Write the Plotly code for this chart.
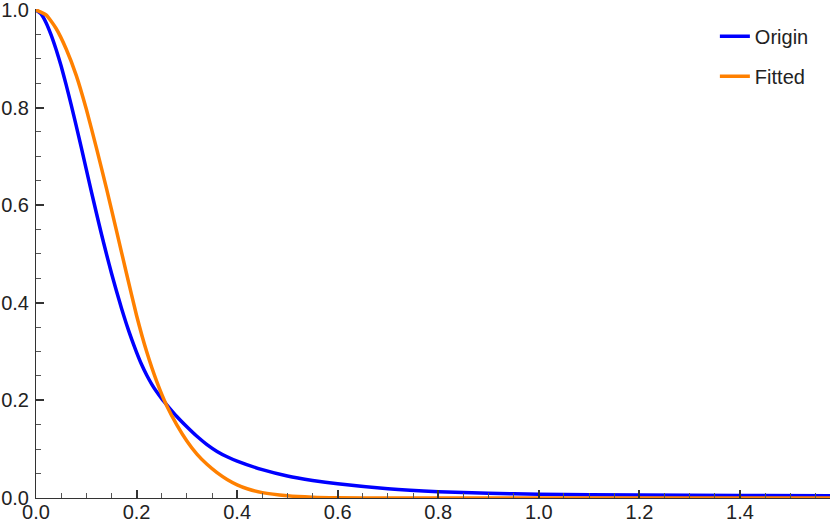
"""
Origin vs fitted profile comparison chart.

Reproduces a Mathematica-style line plot with inside ticks and a plain legend.
"""

import plotly.graph_objects as go

# Values
origin_x = [0.0, 0.01, 0.02, 0.03, 0.04, 0.05, 0.06, 0.07, 0.08, 0.09,
            0.10, 0.11, 0.12, 0.13, 0.14, 0.15, 0.16, 0.17, 0.18, 0.19,
            0.20, 0.21, 0.22, 0.23, 0.24, 0.25, 0.26, 0.28, 0.30, 0.32,
            0.34, 0.36, 0.38, 0.40, 0.45, 0.50, 0.55, 0.60, 0.70, 0.80,
            0.90, 1.00, 1.20, 1.40, 1.579]
origin_y = [1.000, 0.992, 0.974, 0.949, 0.919, 0.885, 0.8465, 0.8055, 0.7625, 0.7185,
            0.6735, 0.6285, 0.5845, 0.5415, 0.5005, 0.461, 0.424, 0.389, 0.356, 0.326,
            0.2985, 0.2735, 0.252, 0.2335, 0.2175, 0.2035, 0.191, 0.167, 0.146, 0.1265,
            0.1095, 0.0955, 0.0845, 0.0755, 0.058, 0.045, 0.036, 0.029, 0.019, 0.013,
            0.0095, 0.0078, 0.006, 0.005, 0.0045]

fitted_x = [0.0, 0.02, 0.04, 0.06, 0.08, 0.10, 0.12, 0.14, 0.16, 0.18,
            0.20, 0.22, 0.24, 0.26, 0.28, 0.30, 0.32, 0.34, 0.36, 0.38,
            0.40, 0.42, 0.45, 0.50, 0.55, 0.60, 0.70, 1.00, 1.579]
fitted_y = [1.000, 0.990, 0.962, 0.920, 0.866, 0.797, 0.718, 0.635, 0.548, 0.460,
            0.374, 0.300, 0.239, 0.189, 0.150, 0.117, 0.090, 0.069, 0.052, 0.038,
            0.027, 0.019, 0.011, 0.0045, 0.0015, 0.0004, 0.0, 0.0, 0.0]

x_range = [0, 1.579]
y_range = [0, 1.002]

AXIS_COLOR = "#333333"
FAMILY = "Liberation Sans, Arial, sans-serif"
TICK_FONT = dict(family=FAMILY, size=20, color="#222222")


def build_chart() -> go.Figure:
    fig = go.Figure()

    # 1. Curves
    fig.add_trace(
        go.Scatter(
            x=origin_x, y=origin_y, mode="lines", name="Origin",
            legendgroup="a",
            line=dict(color="#0000ff", width=3.5, shape="spline", smoothing=0.5),
        )
    )
    fig.add_trace(
        go.Scatter(
            x=fitted_x, y=fitted_y, mode="lines", name="Fitted",
            legendgroup="b",
            line=dict(color="#ff8000", width=3.5, shape="spline", smoothing=0.5),
        )
    )

    # 2. Axes with inside major / minor ticks
    common = dict(
        showgrid=False, zeroline=False, showline=True,
        linecolor=AXIS_COLOR, linewidth=1,
        ticks="inside", ticklen=8, tickwidth=1.5, tickcolor=AXIS_COLOR,
        tickformat=".1f", dtick=0.2, tick0=0,
        tickfont=TICK_FONT, ticklabeloverflow="allow",
        minor=dict(ticks="inside", ticklen=5, tickwidth=1, tickcolor="#555555",
                   dtick=0.05, showgrid=False),
    )
    fig.update_xaxes(range=x_range, ticklabelstandoff=-4, **common)
    fig.update_yaxes(range=y_range, ticklabelstandoff=2, **common)

    # 3. Layout
    fig.update_layout(
        width=830, height=527,
        margin=dict(l=36, r=0, t=9, b=29),
        plot_bgcolor="white", paper_bgcolor="white",
        font=TICK_FONT,
        legend=dict(
            x=0.855, y=0.984, xanchor="left", yanchor="top",
            bgcolor="rgba(0,0,0,0)", tracegroupgap=11,
            font=dict(family=FAMILY, size=20, color="#222222"),
        ),
    )
    return fig


if __name__ == "__main__":
    fig = build_chart()
    # drop the browser's default body margin so the figure sits at 0,0
    fig.write_html(
        "out.html",
        config={"displayModeBar": False},
        post_script="document.body.style.margin='0';",
    )
